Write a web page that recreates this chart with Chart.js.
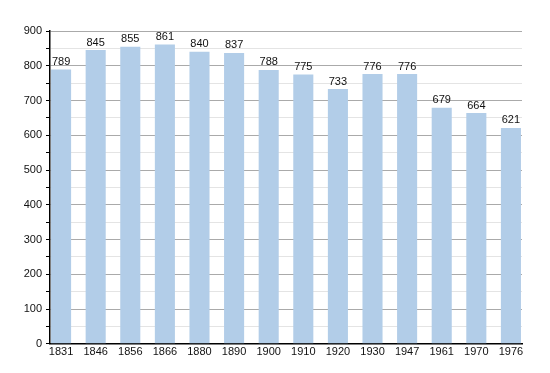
<!DOCTYPE html>
<html>
<head>
<meta charset="utf-8">
<script src="https://cdn.jsdelivr.net/npm/chart.js@4/dist/chart.umd.min.js"></script>
<style>
  html, body { margin: 0; padding: 0; background: #fff; }
  #wrap { width: 550px; height: 373px; }
</style>
</head>
<body>
<div id="wrap"><canvas id="chart" width="550" height="373"></canvas></div>
<script>
const years = ["1831", "1846", "1856", "1866", "1880", "1890", "1900", "1910", "1920", "1930", "1947", "1961", "1970", "1976"];
const population = [789, 845, 855, 861, 840, 837, 788, 775, 733, 776, 776, 679, 664, 621];
const yTicks = [0, 100, 200, 300, 400, 500, 600, 700, 800, 900];

const font = { size: 11, family: '"Liberation Sans", Arial, sans-serif' };

// draws the value above each bar
const valueLabels = {
  id: 'valueLabels',
  afterDatasetsDraw(chart) {
    const c = chart.ctx;
    const meta = chart.getDatasetMeta(0);
    c.save();
    c.font = '11px "Liberation Sans", Arial, sans-serif';
    c.fillStyle = '#111';
    c.textAlign = 'center';
    c.textBaseline = 'bottom';
    meta.data.forEach((bar, i) => {
      c.fillText(String(population[i]), bar.x, bar.y - 2);
    });
    c.restore();
  }
};

const ctx = document.getElementById('chart').getContext('2d');
new Chart(ctx, {
  type: 'bar',
  data: {
    datasets: [{
      data: population.map((v, i) => ({ x: i, y: v })),
      backgroundColor: 'rgb(178, 205, 232)',
      borderWidth: 0,
      barPercentage: 0.58,
      categoryPercentage: 1.0
    }]
  },
  options: {
    responsive: false,
    animation: false,
    layout: { padding: { left: 0, right: 28, top: 31, bottom: 12 } },
    plugins: { legend: { display: false }, tooltip: { enabled: false } },
    scales: {
      x: {
        type: 'linear',
        offset: false,
        min: -0.32,
        max: 13.32,
        afterBuildTicks(scale) {
          scale.ticks = years.map((y, i) => ({ value: i }));
        },
        grid: { display: false, drawTicks: false, offset: false },
        border: { color: '#000', width: 1.5 },
        ticks: {
          color: '#111',
          font: font,
          padding: 2,
          maxRotation: 0,
          autoSkip: false,
          callback: v => years[v]
        }
      },
      y: {
        min: 0,
        max: 900,
        afterFit(scale) { scale.width = 50; },
        afterBuildTicks(scale) {
          const t = [];
          for (let v = 0; v <= 900; v += 50) t.push({ value: v });
          scale.ticks = t;
        },
        grid: {
          color: c => (c.tick && c.tick.value % 100 === 0) ? '#aaa' : '#e4e4e4',
          tickColor: '#000',
          tickLength: 4,
          drawTicks: true
        },
        border: { color: '#000', width: 1.5 },
        ticks: {
          color: '#111',
          font: font,
          padding: 4,
          callback: v => yTicks.includes(v) ? String(v) : ''
        }
      }
    }
  },
  plugins: [valueLabels]
});
</script>
</body>
</html>
